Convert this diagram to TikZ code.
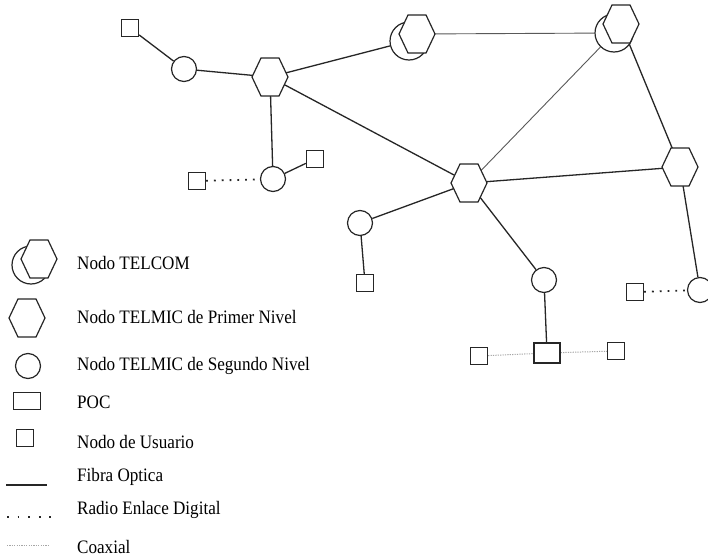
\documentclass[tikz,border=0pt]{standalone}
\usepackage{fontspec}
\setmainfont{Liberation Serif}[FakeStretch=0.9]
\pgfdeclarelayer{bg}
\pgfsetlayers{bg,main}
\newcommand\hexdraw[1]{\draw[line width=1.2pt, draw=black!85, fill=white] (#1) ++(-18,0) -- ++(9,-19) -- ++(18,0) -- ++(9,19) -- ++(-9,19) -- ++(-18,0) -- cycle;}
\begin{document}
\begin{tikzpicture}[x=1pt,y=-1pt,
  ln/.style={line width=1.3pt, draw=black!85},
  thinln/.style={line width=0.9pt, draw=black!65},
  radio/.style={line width=1.8pt, draw=black!85, dash pattern=on 1.8pt off 6pt},
  coax/.style={line width=1pt, draw=black!35, dash pattern=on 1.2pt off 1.2pt},
  circ/.style={circle, draw=black!85, line width=1.2pt, fill=white, minimum size=25pt, inner sep=0pt},
  telc/.style={circle, draw=black!85, line width=1.2pt, fill=white, minimum size=38pt, inner sep=0pt},
  usr/.style={rectangle, draw=black!85, line width=1.3pt, fill=white, minimum width=17pt, minimum height=17pt, inner sep=0pt},
  poc/.style={rectangle, draw=black!85, line width=1.3pt, fill=white, minimum width=26pt, minimum height=20pt, inner sep=0pt},
  hub/.style={circle, inner sep=0pt, minimum size=1pt},
  lbl/.style={anchor=west, font=\fontsize{19}{20}\selectfont, inner sep=0pt},
]
\clip (0,0) rectangle (708,559);
\begin{pgfonlayer}{bg}
\fill[white] (0,0) rectangle (708,559);
\end{pgfonlayer}
% TELCOM nodes: circle behind hexagon
\node[hub] (T1) at (417,34) {};
\node[hub] (T2) at (621,24) {};
\node[telc] (T1c) at (409,41) {};
\node[telc] (T2c) at (614,33) {};
% hub nodes (hexagons)
\node[hub] (H1) at (270,77) {};
\node[hub] (H2) at (469,183) {};
\node[hub] (H3) at (680,167) {};
% other nodes
\node[usr] (U1) at (130,28) {};
\node[circ] (C1) at (184,69) {};
\node[circ] (C2) at (273,179) {};
\node[usr] (U2) at (197,181) {};
\node[usr] (U3) at (315,159) {};
\node[circ] (C3) at (360,223) {};
\node[usr] (U4) at (365,283) {};
\node[circ] (C4) at (544,280) {};
\node[poc] (P1) at (547,353) {};
\node[usr] (U5) at (479,356) {};
\node[usr] (U6) at (616,351) {};
\node[usr] (U7) at (635,292) {};
\node[circ] (C5) at (700,290) {};
% connectors
\begin{pgfonlayer}{bg}
\draw[ln] (U1) -- (C1);
\draw[ln] (C1) -- (H1);
\draw[ln] (H1) -- (T1c);
\draw[ln] (H1) -- (H2);
\draw[ln] (H1) -- (C2);
\draw[ln] (C2) -- (U3);
\draw[radio] (U2) -- (C2);
\draw[thinln] (T1) -- (T2c);
\draw[thinln] (T2c) -- (H2);
\draw[ln] (T2) -- (H3);
\draw[ln] (H2) -- (H3);
\draw[ln] (H2) -- (C3);
\draw[ln] (C3) -- (U4);
\draw[ln] (H2) -- (C4);
\draw[ln] (C4) -- (P1);
\draw[coax] (U5) -- (P1);
\draw[coax] (P1) -- (U6);
\draw[ln] (H3) -- (C5);
\draw[radio] (U7) -- (C5);
\end{pgfonlayer}
% hexagons on top
\hexdraw{H1}
\hexdraw{H2}
\hexdraw{H3}
\hexdraw{T1}
\hexdraw{T2}
% legend
\node[hub] (LT) at (39,259) {};
\node[telc] (LTc) at (31,265) {};
\hexdraw{LT}
\node[hub] (LP) at (27,318) {};
\hexdraw{LP}
\node[circ] (LS) at (28,366) {};
\node[poc, minimum width=27pt, minimum height=17pt] (LQ) at (27,401) {};
\node[usr] (LU) at (25,438) {};
\coordinate (LFa) at (6,485);
\coordinate (LFb) at (47,485);
\draw[ln] (LFa) -- (LFb);
\coordinate (LRa) at (7,517);
\coordinate (LRb) at (52,517);
\draw[radio, dash pattern=on 1.8pt off 8.8pt] (LRa) -- (LRb);
\coordinate (LCa) at (7,545);
\coordinate (LCb) at (50,545);
\draw[coax] (LCa) -- (LCb);
\node[lbl] (t1) at (77,263) {Nodo TELCOM};
\node[lbl] (t2) at (77,317) {Nodo TELMIC de Primer Nivel};
\node[lbl] (t3) at (77,366) {Nodo TELMIC de Segundo Nivel};
\node[lbl] (t4) at (77,402) {POC};
\node[lbl] (t5) at (77,442) {Nodo de Usuario};
\node[lbl] (t6) at (77,477) {Fibra Optica};
\node[lbl] (t7) at (77,510) {Radio Enlace Digital};
\node[lbl] (t8) at (77,547) {Coaxial};
\end{tikzpicture}
\end{document}
